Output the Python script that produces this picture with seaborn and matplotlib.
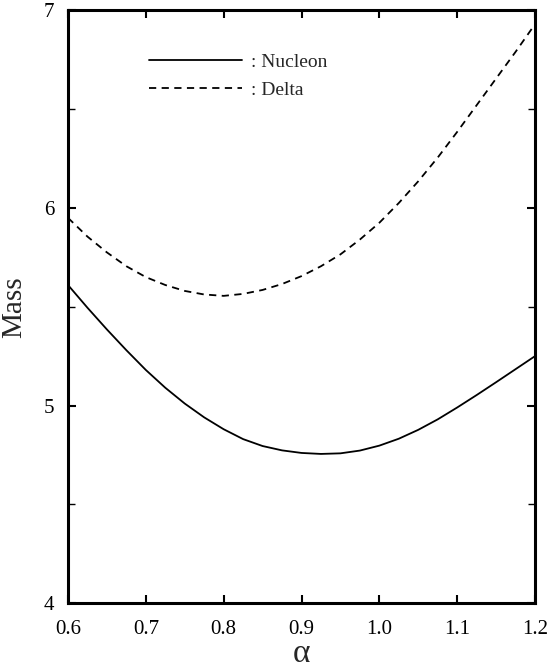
import numpy as np
import pandas as pd
import seaborn as sns
import matplotlib.pyplot as plt
from matplotlib.ticker import MultipleLocator

# Data
alpha = [0.600, 0.625, 0.650, 0.675, 0.700, 0.725, 0.750, 0.775, 0.800,
         0.825, 0.850, 0.875, 0.900, 0.925, 0.950, 0.975, 1.000, 1.025,
         1.050, 1.075, 1.100, 1.125, 1.150, 1.175, 1.200]
nucleon = [5.61, 5.495, 5.385, 5.28, 5.18, 5.09, 5.01, 4.94, 4.88,
           4.83, 4.795, 4.773, 4.76, 4.755, 4.758, 4.772, 4.797, 4.832,
           4.877, 4.93, 4.99, 5.053, 5.118, 5.184, 5.25]
delta = [5.95, 5.855, 5.775, 5.705, 5.65, 5.61, 5.58, 5.562, 5.555,
         5.565, 5.585, 5.615, 5.655, 5.705, 5.765, 5.84, 5.925, 6.025,
         6.135, 6.255, 6.385, 6.52, 6.655, 6.79, 6.93]
x_ticks = ["0.6", "0.7", "0.8", "0.9", "1.0", "1.1", "1.2"]

df = pd.DataFrame({"alpha": alpha, "Nucleon": nucleon, "Delta": delta})

# Settings
sns.set_theme(style="ticks")
plt.rcParams["font.family"] = ["Liberation Serif", "DejaVu Serif"]

fig = plt.figure(figsize=(5.55, 6.69), dpi=100)
ax = fig.add_axes([0.1225, 0.0985, 0.8415, 0.886])

sns.lineplot(data=df, x="alpha", y="Nucleon", color="black", linewidth=1.3,
             label=": Nucleon", ax=ax)
sns.lineplot(data=df, x="alpha", y="Delta", color="black", linewidth=1.3,
             linestyle=(0, (4, 3)), label=": Delta", ax=ax)

ax.set_xlim(0.6, 1.2)
ax.set_ylim(4, 7)
ax.yaxis.set_major_locator(MultipleLocator(1))
ax.yaxis.set_minor_locator(MultipleLocator(0.5))
ax.set_xticks([float(t) for t in x_ticks])
ax.set_xticklabels(x_ticks)

ax.tick_params(which="both", direction="in", top=True, right=True,
               labelsize=15, colors="black")
ax.tick_params(axis="x", pad=12)
ax.tick_params(axis="y", pad=10)
ax.tick_params(which="major", length=6, width=1.5)
ax.tick_params(which="minor", length=5, width=1)
for s in ax.spines.values():
    s.set_linewidth(2.2)
    s.set_color("black")

ax.set_xlabel("α", fontsize=24, labelpad=0)
ax.set_ylabel("Mass", fontsize=21, labelpad=12)

ax.legend(loc="upper left", bbox_to_anchor=(0.135, 0.957), frameon=False,
          handlelength=4.8, handletextpad=0.45, labelspacing=0.55, fontsize=14)

plt.savefig("out.png", dpi=100)
